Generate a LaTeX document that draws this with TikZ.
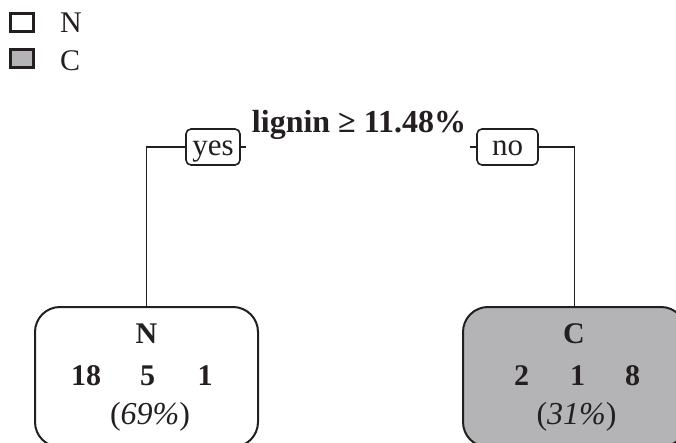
\documentclass[tikz,border=0pt]{standalone}
\usepackage{fontspec}
\setmainfont{Liberation Serif}
\definecolor{ink}{HTML}{231F20}
\definecolor{leafgray}{HTML}{B4B4B6}
\begin{document}
\begin{tikzpicture}[x=1pt,y=-1pt,
  every node/.style={text=ink},
  txt/.style={font=\fontsize{30}{32}\selectfont, inner sep=0pt, anchor=base},
  btxt/.style={font=\fontsize{30}{32}\selectfont\bfseries, inner sep=0pt, anchor=base},
  ttxt/.style={font=\fontsize{32}{34}\selectfont\bfseries, inner sep=0pt, anchor=base},
  itxt/.style={font=\fontsize{32}{34}\selectfont, inner sep=0pt, anchor=base},
  lbl/.style={draw=ink, line width=1.6pt, rounded corners=5pt, minimum height=36pt, inner sep=0pt, text height=24pt, text depth=7pt, font=\fontsize{31}{32}\selectfont},
  leaf/.style={draw=ink, line width=2pt, rounded corners=25pt, minimum width=223pt, minimum height=140pt, inner sep=0pt},
  legbox/.style={draw=ink, line width=3pt, minimum width=23pt, minimum height=18pt, inner sep=0pt},
  conn/.style={draw=ink, line width=1.8pt}
]
\useasboundingbox (0,0) rectangle (676,443);
\clip (0,0) rectangle (676,443);
\fill[white] (0,0) rectangle (676,443);

% legend
\node[legbox, fill=white] (legN) at (22,22.5) {};
\node[legbox, fill=leafgray] (legC) at (22,58.5) {};
\node[txt, anchor=base west] (legNt) at (60,33) {N};
\node[txt, anchor=base west] (legCt) at (60,71) {C};

% split label
\node[ttxt] (split) at (359,133) {lignin ≥ 11.48\%};

% yes / no labels
\node[lbl, minimum width=54pt] (yes) at (213,147) {yes};
\node[lbl, minimum width=61pt] (no) at (507.5,147) {no};

% leaves
\node[leaf, fill=white] (leafN) at (146.5,377) {};
\node[leaf, fill=leafgray] (leafC) at (574.5,377) {};

% stubs
\coordinate (ystub) at (246,147);
\coordinate (nstub) at (470,147);
\draw[conn] (yes.east) -- (ystub);
\draw[conn] (no.west) -- (nstub);

% connectors
\draw[conn] (yes.west) -| (leafN.north);
\draw[conn] (no.east) -| (leafC.north);

% leaf texts
\node[btxt] (nN) at (146.5,343) {N};
\node[btxt] (n18) at (86,385) {18};
\node[btxt] (n5) at (147.5,385) {5};
\node[btxt] (n1) at (205,385) {1};
\node[itxt] (npct) at (150,424) {(\textit{69\%})};

\node[btxt] (cC) at (574,343) {C};
\node[btxt] (c2) at (521.5,385) {2};
\node[btxt] (c1) at (577.5,385) {1};
\node[btxt] (c8) at (632.5,385) {8};
\node[itxt] (cpct) at (576.5,424) {(\textit{31\%})};
\end{tikzpicture}
\end{document}
